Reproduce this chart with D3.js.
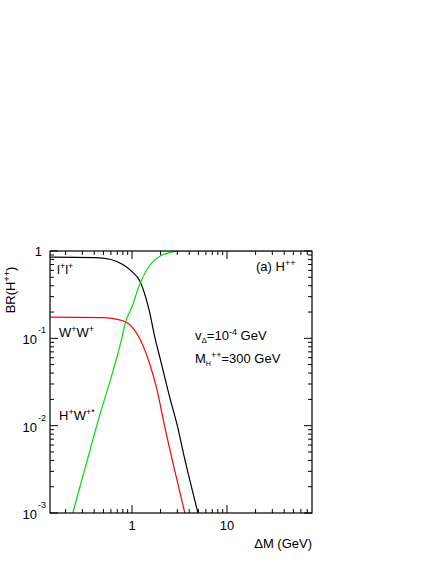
<!DOCTYPE html>
<html><head><meta charset="utf-8">
<script src="https://cdn.jsdelivr.net/npm/d3@7"></script>
<style>body{margin:0;background:#fff}text{font-family:"Liberation Sans",Arial,sans-serif;font-size:13px}</style>
</head><body><svg width="436" height="564"></svg>
<script>
const llX = [0.137, 0.4, 0.6, 0.8, 1.0, 1.2, 1.5, 1.75, 2.0, 2.5, 3.0, 3.5, 4.95];
const llY = [0.85, 0.84, 0.80, 0.70, 0.58, 0.46, 0.22, 0.1, 0.056, 0.021, 0.01, 0.0047, 0.001];
const wwX = [0.137, 0.5, 0.7, 0.9, 1.2, 1.5, 1.8, 2.2, 3.6];
const wwY = [0.175, 0.173, 0.165, 0.15, 0.10, 0.055, 0.028, 0.01, 0.001];
const hwX = [0.238, 0.425, 0.78, 0.85, 1.0, 1.21, 1.5, 2.0, 2.5, 3.2, 80];
const hwY = [0.001, 0.01, 0.1, 0.15, 0.23, 0.42, 0.66, 0.88, 0.96, 1.0, 1.0];
const yTicks = [1, 0.1, 0.01, 0.001];

const svg = d3.select("svg");
const L = 50, R = 312, T = 251, B = 513;
const x = d3.scaleLog().domain([0.137, 78.5]).range([L, R]);
const y = d3.scaleLog().domain([0.001, 1]).range([B, T]);

const g = svg.append("g");
g.append("clipPath").attr("id", "c").append("rect").attr("x", L).attr("y", T).attr("width", R - L).attr("height", B - T);

// ticks (inside, on all sides)
const xMinor = [];
for (let d = 0.1; d <= 10; d *= 10) for (let k = 1; k < 10; k++) { const v = d * k; if (v >= 0.137 && v <= 78.5) xMinor.push(v); }
xMinor.forEach(v => {
  const major = Math.abs(Math.log10(v) - Math.round(Math.log10(v))) < 1e-6;
  const len = major ? 8 : 4;
  g.append("line").attr("x1", x(v)).attr("x2", x(v)).attr("y1", B).attr("y2", B - len).attr("stroke", "#000");
  g.append("line").attr("x1", x(v)).attr("x2", x(v)).attr("y1", T).attr("y2", T + len).attr("stroke", "#000");
});
const yMinor = [];
for (let d = 0.001; d < 1; d *= 10) for (let k = 1; k < 10; k++) yMinor.push(d * k);
yMinor.push(1);
yMinor.forEach(v => {
  const major = Math.abs(Math.log10(v) - Math.round(Math.log10(v))) < 1e-6;
  const len = major ? 8 : 4;
  g.append("line").attr("x1", L).attr("x2", L + len).attr("y1", y(v)).attr("y2", y(v)).attr("stroke", "#000");
  g.append("line").attr("x1", R).attr("x2", R - len).attr("y1", y(v)).attr("y2", y(v)).attr("stroke", "#000");
});

// curves
const line = d3.line().x(d => x(d[0])).y(d => y(d[1])).curve(d3.curveMonotoneX);
[[llX, llY, "#000"], [wwX, wwY, "#f00"], [hwX, hwY, "#0d0"]].forEach(([xs, ys, c]) => {
  g.append("path").attr("clip-path", "url(#c)").attr("d", line(xs.map((v, i) => [v, ys[i]])))
    .attr("fill", "none").attr("stroke", c).attr("stroke-width", 1.2);
});

g.append("rect").attr("x", L).attr("y", T).attr("width", R - L).attr("height", B - T)
  .attr("fill", "none").attr("stroke", "#000").attr("stroke-width", 1.2);

// tick labels
[1, 10].forEach(v => g.append("text").attr("x", x(v)).attr("y", B + 17).attr("text-anchor", "middle").text(v));
yTicks.forEach(v => {
  const e = Math.round(Math.log10(v));
  if (e === 0) g.append("text").attr("x", 42).attr("y", y(v) + 5).attr("text-anchor", "end").text("1");
  else {
    g.append("text").attr("x", 37).attr("y", y(v) + 6).attr("text-anchor", "end").text("10");
    g.append("text").attr("x", 38).attr("y", y(v) - 5).style("font-size", "9px").text("-" + (-e));
  }
});

// axis titles
g.append("text").attr("x", R).attr("y", 548).attr("text-anchor", "end").text("\u0394M (GeV)");
g.append("text").attr("transform", "translate(15,290) rotate(-90)").attr("text-anchor", "middle")
  .html('BR(H<tspan dy="-5" font-size="9">++</tspan><tspan dy="5">)</tspan>');

// in-plot labels
const sup = (s) => '<tspan dy="-5" font-size="9">' + s + '</tspan><tspan dy="5">';
g.append("text").attr("x", 57).attr("y", 274).html("l" + sup("+") + "l" + sup("+") + "</tspan></tspan>");
g.append("text").attr("x", 59).attr("y", 337).html("W" + sup("+") + "W" + sup("+") + "</tspan></tspan>");
g.append("text").attr("x", 59).attr("y", 420).html("H" + sup("+") + "W" + sup("+*") + "</tspan></tspan>");
g.append("text").attr("x", 256).attr("y", 271).html("(a) H" + sup("++") + "</tspan>");
g.append("text").attr("x", 195).attr("y", 340)
  .html('v<tspan dy="3" font-size="8">\u0394</tspan><tspan dy="-3">=10</tspan><tspan dy="-5" font-size="9">-4</tspan><tspan dy="5"> GeV</tspan>');
g.append("text").attr("x", 195).attr("y", 363)
  .html('M<tspan dy="3" font-size="7">H</tspan><tspan dy="-8" font-size="9">++</tspan><tspan dy="5">=300 GeV</tspan>');
</script></body></html>
